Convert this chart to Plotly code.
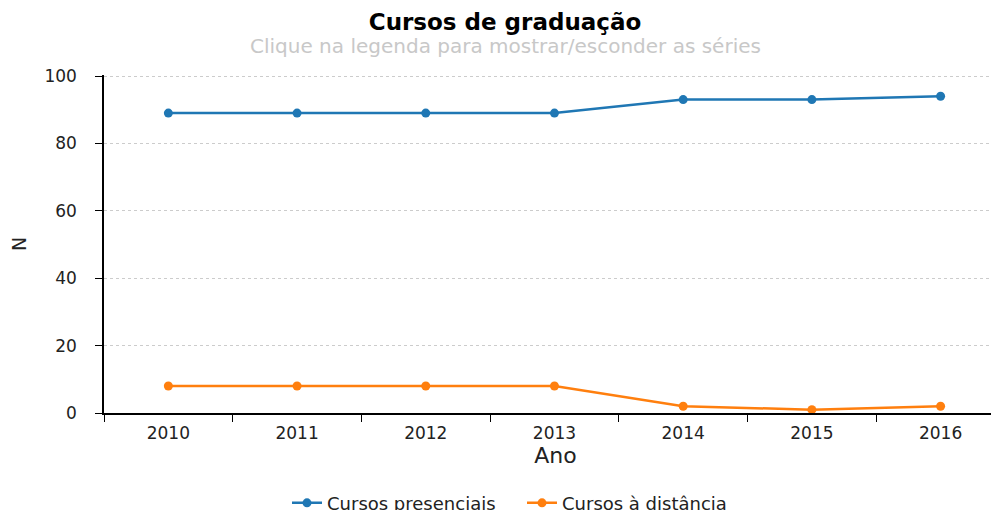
import plotly.graph_objects as go

anos = ['2010', '2011', '2012', '2013', '2014', '2015', '2016']
presenciais = [89, 89, 89, 89, 93, 93, 94]
distancia = [8, 8, 8, 8, 2, 1, 2]

FONT = 'DejaVu Sans'

# the page body adds an 8px offset, so figure coords = screen coords - 8
fig = go.Figure()

fig.add_trace(go.Scatter(
    x=anos, y=presenciais, name='Cursos presenciais',
    mode='lines+markers',
    line=dict(color='#1f77b4', width=2.5),
    marker=dict(color='#1f77b4', size=9),
))
fig.add_trace(go.Scatter(
    x=anos, y=distancia, name='Cursos à distância',
    mode='lines+markers',
    line=dict(color='#ff7f0e', width=2.5),
    marker=dict(color='#ff7f0e', size=9),
))

fig.update_layout(
    width=999, height=510,
    margin=dict(l=96, r=0, t=67, b=105, autoexpand=False),
    paper_bgcolor='white',
    plot_bgcolor='white',
    font=dict(family=FONT, color='#222'),
    title=dict(
        text='<b>Cursos de graduação</b>',
        x=497 / 999, xanchor='center', y=1 - 14 / 510, yanchor='middle',
        font=dict(size=23, color='#000', family=FONT),
        automargin=False,
    ),
    showlegend=True,
    legend=dict(
        orientation='h', x=(279 - 96) / 903, xanchor='left',
        y=-0.212, yanchor='top',
        font=dict(size=18, color='#222'),
        itemwidth=30,
        entrywidth=190, entrywidthmode='pixels',
        tracegroupgap=0,
    ),
)

fig.add_annotation(
    text='Clique na legenda para mostrar/esconder as séries',
    xref='paper', yref='paper', x=(497 - 96) / 903, y=1 + (67 - 38) / 338,
    xanchor='center', yanchor='middle', showarrow=False,
    font=dict(size=20, color='#c8c8c8', family=FONT),
)

fig.update_xaxes(
    type='category',
    range=[-0.5, 6.516],
    tickson='boundaries',
    ticks='outside', ticklen=7, tickcolor='#000', tickwidth=1.2,
    showline=True, linecolor='#000', linewidth=1.5,
    showgrid=False, automargin=False,
    tickfont=dict(size=17, color='#222'),
    ticklabelstandoff=4,
    title=dict(text='Ano', font=dict(size=22, color='#222'), standoff=4),
)

fig.update_yaxes(
    range=[0, 100.3],
    tickvals=[0, 20, 40, 60, 80, 100],
    ticks='outside', ticklen=7, tickcolor='#000', tickwidth=1.2,
    showline=True, linecolor='#000', linewidth=1.5,
    showgrid=True, gridcolor='#cccccc', griddash='dot', gridwidth=1.2,
    zeroline=False, automargin=False,
    tickfont=dict(size=17, color='#222'),
    ticklabelstandoff=15,
    title=dict(text='N', font=dict(size=19, color='#222'), standoff=25),
)

fig.write_html("out.html")
